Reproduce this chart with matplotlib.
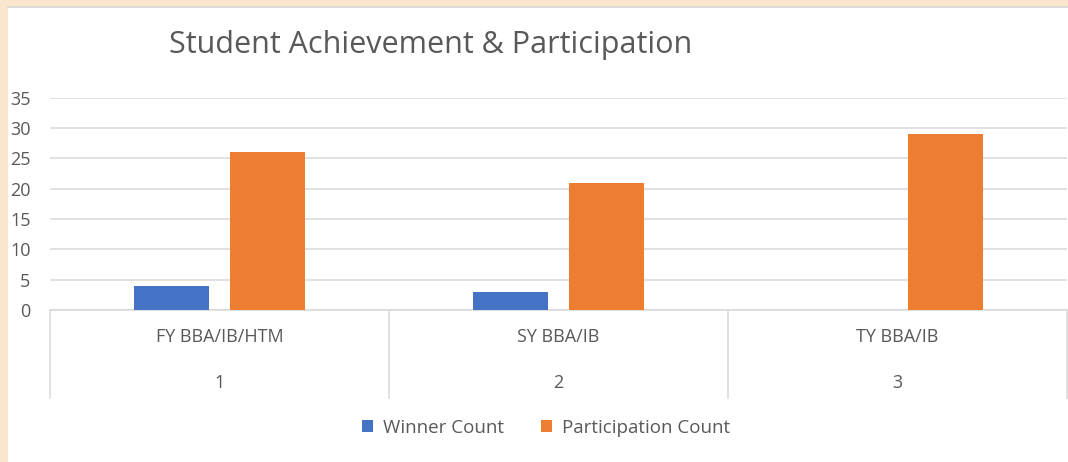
import numpy as np
import matplotlib.pyplot as plt
from matplotlib.patches import Rectangle

plt.rcParams['font.family'] = ['Open Sans', 'DejaVu Sans']

# data
categories = ['FY BBA/IB/HTM', 'SY BBA/IB', 'TY BBA/IB']
category_numbers = ['1', '2', '3']
winner_count = [4, 3, 0]
participation_count = [26, 21, 29]

BLUE = '#4472C4'
ORANGE = '#ED7D31'
TEXT = '#595959'
GRID = '#D9D9D9'

W, H = 1068, 462
fig = plt.figure(figsize=(W / 100, H / 100), dpi=100)
fig.patch.set_facecolor('#FAE6CD')

# white chart area with a thin grey edge on top
fig.patches.append(Rectangle((8 / W, 0), 1 - 8 / W, (H - 7) / H, transform=fig.transFigure,
                             facecolor='white', edgecolor='none', zorder=-5))
fig.add_artist(plt.Line2D([8 / W, 1], [(H - 6.5) / H] * 2, color='#D6D6D6', lw=1.2, zorder=-4))

left, right = 50, 1067
y0, y35 = 310, 97.7
ax = fig.add_axes([left / W, (H - y0) / H, (right - left) / W, (y0 - y35) / H])
ax.set_facecolor('none')

x = np.arange(len(categories))
bw = 0.221
off = 0.142
ax.bar(x - off, winner_count, bw, color=BLUE, label='Winner Count', zorder=3)
ax.bar(x + off, participation_count, bw, color=ORANGE, label='Participation Count', zorder=3)

ax.set_xlim(-0.5, len(categories) - 0.5)
ax.set_ylim(0, 35)
ax.set_yticks(range(0, 36, 5))
ax.yaxis.grid(True, color=GRID, lw=1.1)
ax.set_axisbelow(True)
ax.tick_params(axis='y', length=0, pad=14, labelsize=13, labelcolor=TEXT)
ax.set_xticks([])
for s in ['top', 'right', 'left']:
    ax.spines[s].set_visible(False)
ax.spines['bottom'].set_color(GRID)
ax.spines['bottom'].set_linewidth(1.1)

# two-level category axis
trans = ax.get_xaxis_transform()
depth = (398 - y0) / (y0 - y35)
for b in np.arange(len(categories) + 1) - 0.5:
    ax.plot([b, b], [0, -depth], transform=trans, color=GRID, lw=1.1, clip_on=False)
for i, (c, n) in enumerate(zip(categories, category_numbers)):
    ax.text(i, -(337 - y0) / (y0 - y35), c, transform=trans, ha='center', va='center',
            fontsize=13, color=TEXT)
    ax.text(i, -(383 - y0) / (y0 - y35), n, transform=trans, ha='center', va='center',
            fontsize=13, color=TEXT)

fig.text(431 / W, (H - 45) / H, 'Student Achievement & Participation', ha='center', va='center',
         fontsize=22, color=TEXT)

fig.legend(loc='center', bbox_to_anchor=(546 / W, (H - 428) / H), ncol=2, frameon=False,
           fontsize=13.5, labelcolor=TEXT, handlelength=0.6, handleheight=0.6,
           handletextpad=0.5, columnspacing=2.0)

fig.savefig('out.png', dpi=100, facecolor=fig.get_facecolor())
